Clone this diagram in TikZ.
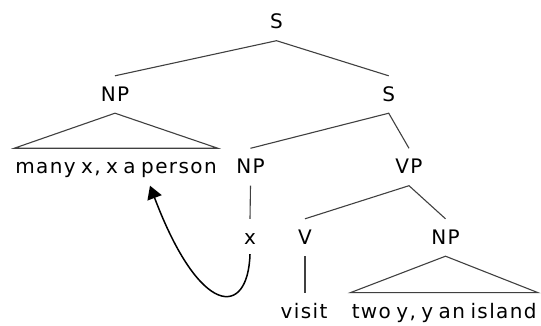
\documentclass[tikz,border=0pt]{standalone}
\usepackage{fontspec}
\setmainfont[LetterSpace=7,WordSpace=0.7]{DejaVu Sans}
\usetikzlibrary{arrows.meta}
\begin{document}
\begin{tikzpicture}[x=1pt,y=-1pt,
  lbl/.style={anchor=base,font=\fontsize{20pt}{22pt}\selectfont,text height=14pt,text depth=0pt,inner xsep=1pt,inner ysep=11.5pt},
  branch/.style={draw=black!75,line width=1.1pt},
  tri/.style={draw=black!75,line width=1.1pt,line join=miter},
  move/.style={draw=black,line width=1.5pt,-{Triangle[length=13pt,width=15pt]}}]
\useasboundingbox (0,0) rectangle (541,326);
\node[lbl] (S) at (276.5,29) {S};
\node[lbl] (NPa) at (115,101.5) {NP};
\node[lbl] (S2) at (388.7,101.5) {S};
\node[lbl] (many) at (116,174) {many x, x a person};
\node[lbl] (NPb) at (250.5,174) {NP};
\node[lbl] (VP) at (409,174) {VP};
\node[lbl] (x) at (250,244.5) {x};
\node[lbl] (V) at (305,244.5) {V};
\node[lbl] (NPc) at (445.5,244.5) {NP};
\node[lbl] (visit) at (304,318.3) {visit};
\node[lbl] (two) at (444.2,318.3) {two y, y an island};
\draw[branch] (NPa.north) -- (S.south) -- (S2.north);
\draw[branch] (NPb.north) -- (S2.south) -- (VP.north);
\draw[branch] (V.north) -- (VP.south) -- (NPc.north);
\draw[branch] (NPb.south) -- (x.north);
\draw[branch] (V.south) -- (V.south |- visit.north);
\draw[tri] (NPa.south) -- (many.north west) -- (many.north east) -- cycle;
\draw[tri] (NPc.south) -- (two.north west) -- (two.north east) -- cycle;
\coordinate (tip) at (150,185.7);
\draw[move] ([yshift=2pt]x.south) .. controls (248,318) and (200,318) .. (tip);
\end{tikzpicture}
\end{document}
